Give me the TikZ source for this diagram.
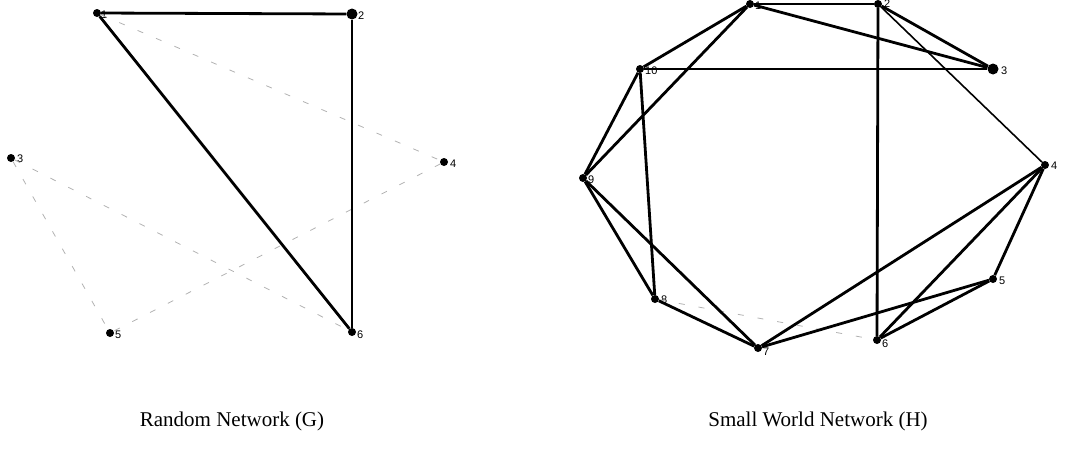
\documentclass[tikz,border=0pt]{standalone}
\usepackage{fontspec}
\setmainfont{Liberation Serif}
\newfontfamily\lblfont{Liberation Sans}
\begin{document}
\begin{tikzpicture}[x=1pt,y=-1pt,
  dot/.style={circle,fill=black,inner sep=0pt,minimum size=8pt},
  bigdot/.style={circle,fill=black,inner sep=0pt,minimum size=11pt},
  lbl/.style={font=\lblfont\fontsize{11}{11}\selectfont,inner sep=0pt,anchor=west},
  edge/.style={line width=2.8pt},
  thinedge/.style={line width=1.6pt},
  faint/.style={draw=black!30,line width=0.8pt,dash pattern=on 6pt off 14pt},
  captext/.style={font=\fontsize{21}{21}\selectfont,inner sep=0pt}
]
\useasboundingbox (0,0) rectangle (1065,448);

% ---------- Random network (G) ----------
\node[dot]    (g1) at (97,13) {};
\node[bigdot] (g2) at (352,14) {};
\node[dot]    (g3) at (11,158) {};
\node[dot]    (g4) at (444,162) {};
\node[dot]    (g5) at (110,333) {};
\node[dot]    (g6) at (352,332) {};

\node[lbl] (g1l) at (101,15) {1};
\node[lbl] (g2l) at (358,16) {2};
\node[lbl] (g3l) at (17,159) {3};
\node[lbl] (g4l) at (450,164) {4};
\node[lbl] (g5l) at (115,335) {5};
\node[lbl] (g6l) at (357,335) {6};

\draw[faint] (g1) -- (g4);
\draw[faint] (g4) -- (g5);
\draw[faint] (g3) -- (g6);
\draw[faint] (g3) -- (g5);

\draw[edge] (g1) -- (g2);
\draw[edge] (g2) -- (g6);
\draw[edge] (g1) -- (g6);

% ---------- Small world network (H) ----------
\node[dot]    (h1)  at (750,4) {};
\node[dot]    (h2)  at (878,4) {};
\node[bigdot] (h3)  at (993,69) {};
\node[dot]    (h4)  at (1045,165) {};
\node[dot]    (h5)  at (993,279) {};
\node[dot]    (h6)  at (877,340) {};
\node[dot]    (h7)  at (758,348) {};
\node[dot]    (h8)  at (655,299) {};
\node[dot]    (h9)  at (583,178) {};
\node[dot]    (h10) at (640,69) {};

\node[lbl] (h1l)  at (755,6) {1};
\node[lbl] (h2l)  at (884,4) {2};
\node[lbl] (h3l)  at (1001,71) {3};
\node[lbl] (h4l)  at (1051,166) {4};
\node[lbl] (h5l)  at (999,281) {5};
\node[lbl] (h6l)  at (882,344) {6};
\node[lbl] (h7l)  at (763,352) {7};
\node[lbl] (h8l)  at (661,300) {8};
\node[lbl] (h9l)  at (588,180) {9};
\node[lbl] (h10l) at (645,71) {10};

\draw[faint] (h8) -- (h6);

\draw[edge] (h1) -- (h2);
\draw[edge] (h1) -- (h3);
\draw[edge] (h1) -- (h10);
\draw[edge] (h1) -- (h9);
\draw[edge] (h2) -- (h3);
\draw[thinedge] (h2) -- (h4);
\draw[edge] (h2) -- (h6);
\draw[edge] (h10) -- (h3);
\draw[edge] (h10) -- (h9);
\draw[edge] (h10) -- (h8);
\draw[edge] (h9) -- (h8);
\draw[edge] (h9) -- (h7);
\draw[edge] (h8) -- (h7);
\draw[edge] (h7) -- (h4);
\draw[edge] (h7) -- (h5);
\draw[edge] (h4) -- (h5);
\draw[edge] (h4) -- (h6);
\draw[edge] (h6) -- (h5);

% ---------- captions ----------
\node[captext] (capG) at (232,421) {Random Network (G)};
\node[captext] (capH) at (818,421) {Small World Network (H)};
\end{tikzpicture}
\end{document}
